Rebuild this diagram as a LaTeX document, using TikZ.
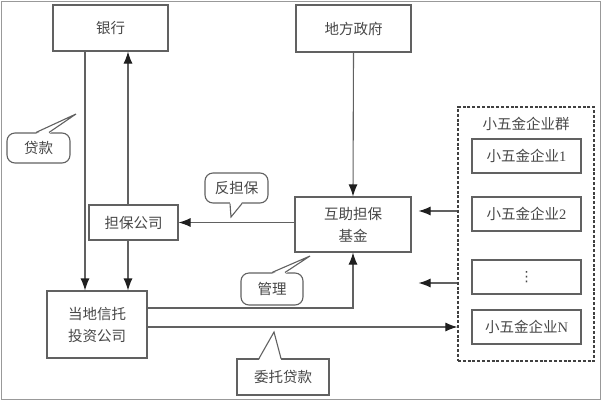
\documentclass[tikz,border=0pt]{standalone}
\usepackage{fontspec}
\setmainfont{Liberation Serif}
\newfontfamily\cjk{Noto Sans CJK SC}
\newfontfamily\dejavu{DejaVu Sans}
\usetikzlibrary{calc,arrows.meta}
\begin{document}
\begin{tikzpicture}[x=1pt,y=-1pt,
  line/.style={draw=black!62,line width=1.1pt},
  arr/.style={line,-{Latex[length=12pt,width=9pt,color=black!88]}},
  txt/.style={text=black!72,font=\fontsize{14.5}{22}\selectfont\cjk,align=center,inner sep=0pt},
  box/.style={line,fill=white,txt},
  bubble/.style={box,rounded corners=8pt},
  grp/.style={draw=black!75,line width=1.2pt,dash pattern=on 3pt off 1.8pt}]
\useasboundingbox (0,0) rectangle (602,400);
\draw[black!40,line width=1pt] (1,1) rectangle (600,399);

% main boxes
\node[box,minimum width=115pt,minimum height=46pt] (bank) at (110.5,28) {银行};
\node[box,minimum width=115pt,minimum height=47pt] (gov) at (353.5,28.5) {地方政府};
\node[box,minimum width=116pt,minimum height=55pt] (fund) at (353,224.5) {互助担保\\基金};
\node[box,minimum width=89pt,minimum height=35pt] (guar) at (133.5,222.5) {担保公司};
\node[box,minimum width=100pt,minimum height=67pt] (trust) at (97,324.5) {当地信托\\投资公司};

% enterprise group
\node[grp,minimum width=136pt,minimum height=254pt,inner sep=0pt] (group) at (526,234) {};
\node[txt] (gtitle) at (526,124) {小五金企业群};
\node[box,minimum width=109pt,minimum height=34pt] (e1) at (526.5,156) {小五金企业{\rmfamily 1}};
\node[box,minimum width=109pt,minimum height=34pt] (e2) at (526.5,214) {小五金企业{\rmfamily 2}};
\node[box,minimum width=109pt,minimum height=34pt] (e3) at (526.5,277) {{\dejavu\fontsize{14}{14}\selectfont ⋮}};
\node[box,minimum width=109pt,minimum height=34pt] (eN) at (526.5,327) {小五金企业{\rmfamily N}};

% helper coordinates
\coordinate (xa) at (85,0);
\coordinate (xb) at (128,0);
\coordinate (y1) at (0,308);
\coordinate (y2) at (0,327);
\coordinate (y3) at (0,211);
\coordinate (y4) at (0,283);
\coordinate (fe3) at ($(fund.east |- y3)+(7,0)$);
\coordinate (fe4) at ($(fund.east |- y4)+(7,0)$);

% connectors
\draw[arr] (bank.south -| xa) -- (trust.north -| xa);
\draw[arr] (guar.north -| xb) -- (bank.south -| xb);
\draw[arr] (guar.south -| xb) -- (trust.north -| xb);
\draw[arr] (gov.south) -- (fund.north);
\draw[arr] (fund.west |- guar.east) -- (guar.east);
\draw[arr] (trust.east |- y1) -| (fund.south);
\draw[arr] (trust.east |- y2) -- (group.west |- y2);
\draw[arr] (group.west |- y3) -- (fe3);
\draw[arr] (group.west |- y4) -- (fe4);

% callouts
\node[bubble,minimum width=63pt,minimum height=30pt] (c1) at (38.5,148) {贷款};
\coordinate (t1) at (76,114);
\fill[white] ($(c1.north)+(-2.5,1.5)$) -- (t1) -- ($(c1.north)+(10.5,1.5)$) -- cycle;
\draw[line,line join=miter] ($(c1.north)+(-2.5,0)$) -- (t1) -- ($(c1.north)+(10.5,0)$);

\node[bubble,minimum width=63pt,minimum height=30pt] (c2) at (236.5,188) {反担保};
\coordinate (t2) at (231,217);
\fill[white] ($(c2.south)+(-6.5,-1.5)$) -- (t2) -- ($(c2.south)+(5.5,-1.5)$) -- cycle;
\draw[line] ($(c2.south)+(-6.5,0)$) -- (t2) -- ($(c2.south)+(5.5,0)$);

\node[bubble,minimum width=62pt,minimum height=32pt] (c3) at (272,289) {管理};
\coordinate (t3) at (310,256);
\fill[white] ($(c3.north)+(0,1.5)$) -- (t3) -- ($(c3.north)+(13,1.5)$) -- cycle;
\draw[line] ($(c3.north)+(0,0)$) -- (t3) -- ($(c3.north)+(13,0)$);

\node[box,minimum width=92pt,minimum height=36pt] (c4) at (283,377) {委托贷款};
\coordinate (t4) at (274,332);
\fill[white] ($(c4.north)+(-24,1.5)$) -- (t4) -- ($(c4.north)+(-2,1.5)$) -- cycle;
\draw[line] ($(c4.north)+(-24,0)$) -- (t4) -- ($(c4.north)+(-2,0)$);
\end{tikzpicture}
\end{document}
